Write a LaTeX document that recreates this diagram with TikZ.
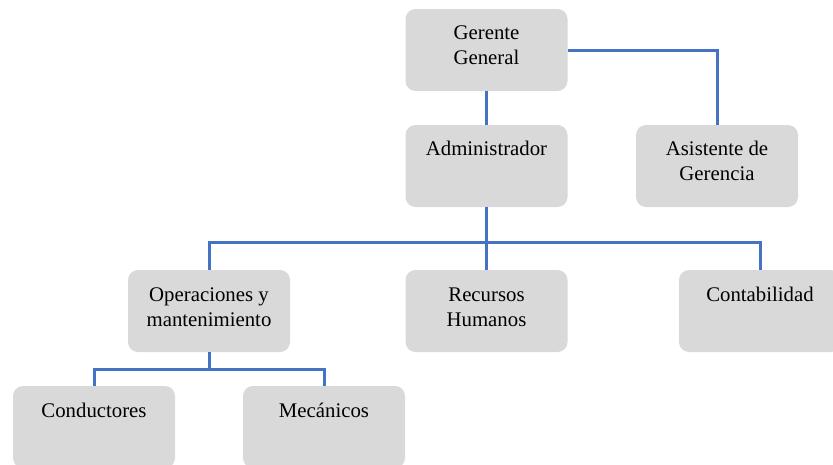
\documentclass[tikz,border=0pt]{standalone}
\usepackage{fontspec}
\setmainfont{Liberation Serif}
\definecolor{boxgray}{HTML}{D9D9D9}
\definecolor{linkblue}{HTML}{4472C4}
\begin{document}
\begin{tikzpicture}[x=1pt,y=-1pt,
  unit/.style={fill=boxgray, rounded corners=10pt, minimum width=162pt,
    minimum height=82pt, inner sep=0pt},
  caption/.style={anchor=base, align=center, inner sep=0pt,
    font=\fontsize{20.8}{25}\selectfont},
  link/.style={draw=linkblue, line width=3pt}]
\useasboundingbox (0,0) rectangle (833,464);

% boxes
\node[unit] (gg)  at (486.5,50)  {};
\node[unit] (adm) at (486.5,166) {};
\node[unit] (asi) at (717,166)   {};
\node[unit] (ops) at (209,311)   {};
\node[unit] (rh)  at (486.5,311) {};
\node[unit] (con) at (760,311)   {};
\node[unit] (cnd) at (94,427)    {};
\node[unit] (mec) at (324,427)   {};

% captions near the top of each box (base = baseline of the last line)
\node[caption] (tgg)  at ([yshift=-56pt]gg.north)  {Gerente\\General};
\node[caption] (tadm) at ([yshift=-31pt]adm.north) {Administrador};
\node[caption] (tasi) at ([yshift=-56pt]asi.north) {Asistente de\\Gerencia};
\node[caption] (tops) at ([yshift=-57pt]ops.north) {Operaciones y\\mantenimiento};
\node[caption] (trh)  at ([yshift=-57pt]rh.north)  {Recursos\\Humanos};
\node[caption] (tcon) at ([yshift=-32pt]con.north) {Contabilidad};
\node[caption] (tcnd) at ([yshift=-32pt]cnd.north) {Conductores};
\node[caption] (tmec) at ([yshift=-32pt]mec.north) {Mecánicos};

% connectors
\coordinate (bus1) at (486.5,242);
\coordinate (bus2) at (209,369);
\draw[link] (gg.south) -- (adm.north);
\draw[link] (gg.east) -| (asi.north);
\draw[link] (adm.south) -- (rh.north);
\draw[link] (ops.north) -- (ops.north |- bus1) -- (con.north |- bus1) -- (con.north);
\draw[link] (ops.south) -- (bus2);
\draw[link] (cnd.north) -- (cnd.north |- bus2) -- (mec.north |- bus2) -- (mec.north);
\end{tikzpicture}
\end{document}
